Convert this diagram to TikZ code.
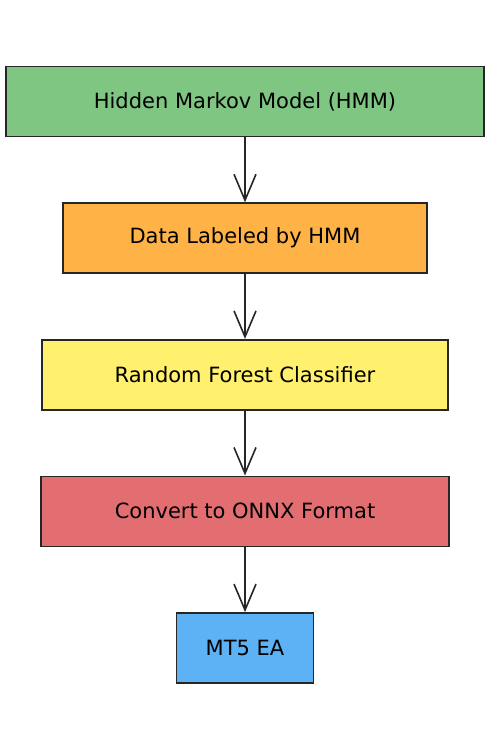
\documentclass[tikz,border=0pt]{standalone}
\usepackage{fontspec}
\setmainfont{DejaVu Sans}
\usepackage{tikz}
\usetikzlibrary{positioning,arrows.meta}
\definecolor{hmmgreen}{HTML}{7EC682}
\definecolor{dataorange}{HTML}{FFB347}
\definecolor{rfyellow}{HTML}{FFF06E}
\definecolor{onnxred}{HTML}{E26E71}
\definecolor{eablue}{HTML}{5CB2F5}
\tikzset{
  block/.style={draw=black!85, line width=1.6pt, minimum height=70pt, inner sep=0pt, align=center},
  flow/.style={line width=2.2pt, black!85, -{Straight Barb[length=26pt, width=22pt, line width=1.6pt]}},
}

\begin{document}
\begin{tikzpicture}[x=1pt, y=1pt, node distance=65pt, font=\fontsize{21}{24}\selectfont]
\useasboundingbox (0,0) rectangle (490,-750);
\node (hmm)  [block, fill=hmmgreen, minimum width=478pt] at (245,-101.5) {Hidden Markov Model (HMM)};
\node (data) [block, fill=dataorange, minimum width=364pt, below=of hmm] {Data Labeled by HMM};
\node (rf)   [block, fill=rfyellow, minimum width=406pt, below=of data] {Random Forest Classifier};
\node (onnx) [block, fill=onnxred, minimum width=408pt, below=of rf] {Convert to ONNX Format};
\node (ea)   [block, fill=eablue, minimum width=137pt, below=of onnx] {MT5 EA};

% main path
\draw[flow] (hmm) -- (data);
\draw[flow] (data) -- (rf);
\draw[flow] (rf) -- (onnx);
\draw[flow] (onnx) -- (ea);
\end{tikzpicture}
\end{document}
